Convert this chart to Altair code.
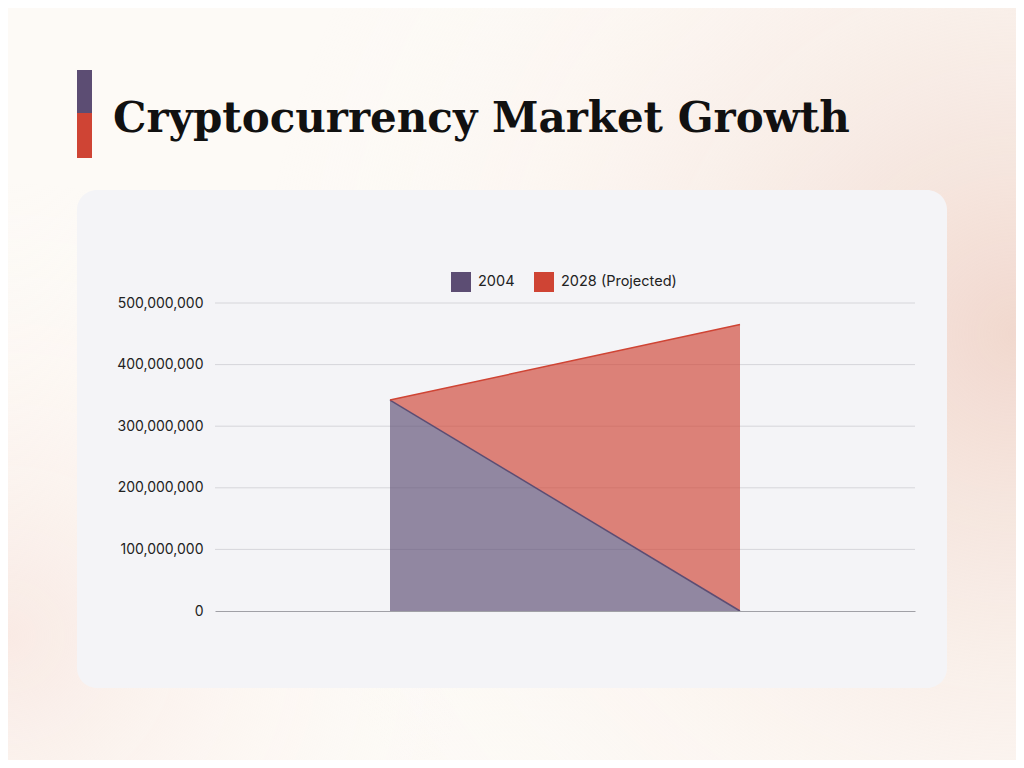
import altair as alt
import pandas as pd

# ---- data ----
categories = ["Start", "End"]
series_names = ["2004", "2028 (Projected)"]
values_2004 = [342_500_000, 0]
values_2028 = [0, 465_000_000]
colors = ["#5c4d73", "#cf4434"]
y_ticks = [0, 100_000_000, 200_000_000, 300_000_000, 400_000_000, 500_000_000]
title_text = "Cryptocurrency Market Growth"

rows = []
for s, vals in zip(series_names, [values_2004, values_2028]):
    for c, v in zip(categories, vals):
        rows.append({"category": c, "series": s, "value": v})
df = pd.DataFrame(rows)
grid_df = pd.DataFrame({"value": y_ticks[1:]})

W, H = 700, 308
PL, PT = 207, 295
TOTAL_W, TOTAL_H = 1008, 752
one = pd.DataFrame({"a": [0]})


def full_rect(fill):
    return alt.Chart(one).mark_rect(color=fill).encode(
        x=alt.value(-PL), x2=alt.value(TOTAL_W - PL),
        y=alt.value(-PT), y2=alt.value(TOTAL_H - PT),
    )


bg = full_rect("#fdfaf6")
glow_right = full_rect({
    "gradient": "radial", "x1": 1.0, "y1": 0.45, "r1": 0,
    "x2": 1.0, "y2": 0.45, "r2": 0.75,
    "stops": [
        {"offset": 0, "color": "rgba(240,214,204,0.95)"},
        {"offset": 1, "color": "rgba(253,250,246,0)"},
    ],
})
glow_left = full_rect({
    "gradient": "radial", "x1": 0.0, "y1": 0.75, "r1": 0,
    "x2": 0.0, "y2": 0.75, "r2": 0.45,
    "stops": [
        {"offset": 0, "color": "rgba(248,230,224,0.8)"},
        {"offset": 1, "color": "rgba(253,250,246,0)"},
    ],
})

card = alt.Chart(one).mark_rect(color="#f4f4f7", cornerRadius=20).encode(
    x=alt.value(77 - 8 - PL), x2=alt.value(947 - 8 - PL),
    y=alt.value(190 - 8 - PT), y2=alt.value(688 - 8 - PT),
)

bar_top = alt.Chart(one).mark_rect(color="#5c4d73").encode(
    x=alt.value(77 - 8 - PL), x2=alt.value(92 - 8 - PL),
    y=alt.value(70 - 8 - PT), y2=alt.value(113 - 8 - PT),
)
bar_bot = alt.Chart(one).mark_rect(color="#cf4434").encode(
    x=alt.value(77 - 8 - PL), x2=alt.value(92 - 8 - PL),
    y=alt.value(113 - 8 - PT), y2=alt.value(158 - 8 - PT),
)

title = alt.Chart(pd.DataFrame({"t": [title_text]})).mark_text(
    align="left", baseline="alphabetic", font="DejaVu Serif",
    fontWeight="bold", fontSize=42, color="#111111",
).encode(
    x=alt.value(113 - 8 - PL), y=alt.value(132 - 8 - PT), text="t:N"
)

yscale = alt.Scale(domain=[0, 500_000_000])

grid = alt.Chart(grid_df).mark_rule(color="#d6d6da", strokeWidth=1).encode(
    y=alt.Y("value:Q", scale=yscale),
    x=alt.value(0), x2=alt.value(W),
)

areas = alt.Chart(df).mark_area(
    fillOpacity=0.65, line={"strokeWidth": 1.5}
).encode(
    x=alt.X("category:O", sort=categories,
            scale=alt.Scale(type="point", padding=0.5),
            axis=alt.Axis(title=None, labels=False, ticks=False, grid=False,
                          domain=True, domainColor="#a0a0a6", domainWidth=1,
                          zindex=1)),
    y=alt.Y("value:Q", stack="zero", scale=yscale,
            axis=alt.Axis(title=None, format=",d", values=y_ticks,
                          domain=False, ticks=False, grid=False, labelPadding=12,
                          labelFont="Inter", labelFontSize=14, labelColor="#222222",
                          zindex=1)),
    color=alt.Color("series:N", sort=series_names,
                    scale=alt.Scale(domain=series_names, range=colors),
                    legend=alt.Legend(title=None, orient="none", direction="horizontal",
                                      legendX=451 - 215, legendY=272 - 303,
                                      symbolType="square", symbolSize=400,
                                      symbolStrokeWidth=0, symbolOpacity=1,
                                      labelFont="Inter", labelFontSize=14.5,
                                      labelColor="#222222", columnPadding=19,
                                      labelOffset=7)),
    order=alt.Order("series:N", sort="ascending"),
)

chart = alt.layer(bg, glow_right, glow_left, card, bar_top, bar_bot, title, grid, areas).properties(
    width=W, height=H,
    autosize=alt.AutoSizeParams(type="none"),
    padding={"left": PL, "top": PT, "right": TOTAL_W - PL - W, "bottom": TOTAL_H - PT - H},
    background="#fdfaf6",
).configure_view(stroke=None)

chart.save("out.html", embed_options={"renderer": "svg", "actions": False})
